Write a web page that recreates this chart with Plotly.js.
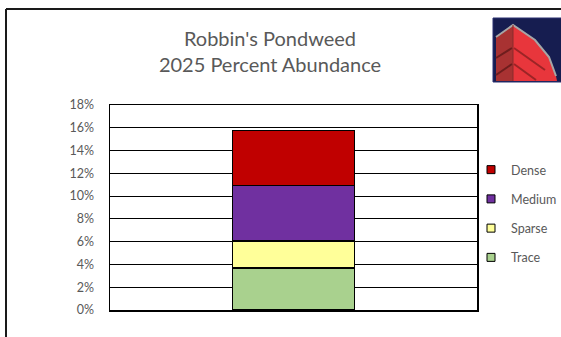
<!DOCTYPE html>
<html>
<head>
<meta charset="utf-8">
<script src="https://cdn.plot.ly/plotly-3.0.1.min.js"></script>
<style>html,body{margin:0;padding:0;background:#fff;}#chart{width:561px;height:337px;}</style>
</head>
<body>
<div id="chart"></div>
<script>
// Data
const categories = ['2025'];
const seriesNames = ['Trace', 'Sparse', 'Medium', 'Dense'];
const traceVals = [0.037];
const sparseVals = [0.0235];
const mediumVals = [0.049];
const denseVals = [0.048];
const seriesColors = ['#a9d18e', '#ffff99', '#7030a0', '#c00000'];
const tickVals = [0, 0.02, 0.04, 0.06, 0.08, 0.10, 0.12, 0.14, 0.16, 0.18];
const tickText = ['0%', '2%', '4%', '6%', '8%', '10%', '12%', '14%', '16%', '18%'];
const titleLines = ["Robbin's Pondweed", '2025 Percent Abundance'];

const W = 561, H = 337;
const L = 110, R = 477, T = 105, B = 310;
const px = x => (x - L) / (R - L);
const py = y => (B - y) / (B - T);
const pt = (x, y) => px(x) + ',' + py(y);

const allVals = [traceVals, sparseVals, mediumVals, denseVals];
const traces = [];
allVals.forEach((vals, i) => {
  traces.push({
    type: 'bar', x: categories, y: vals, name: seriesNames[i],
    marker: {color: seriesColors[i], line: {color: '#000', width: 1.5}},
    width: 0.333, showlegend: false, hoverinfo: 'skip'
  });
});
// legend entries (square markers), top to bottom: Dense, Medium, Sparse, Trace
for (let i = allVals.length - 1; i >= 0; i--) {
  traces.push({
    type: 'scatter', mode: 'markers', x: [null], y: [null], name: seriesNames[i],
    legendgroup: 'g' + i,
    marker: {symbol: 'square', size: 8, color: seriesColors[i], line: {color: '#000', width: 1}},
    showlegend: true
  });
}

const shapes = [
  // outer frame
  {type: 'line', xref: 'paper', yref: 'paper', x0: px(6), y0: py(9), x1: px(570), y1: py(9), line: {color: '#1a1a1a', width: 2}},
  {type: 'line', xref: 'paper', yref: 'paper', x0: px(6), y0: py(9), x1: px(6), y1: py(345), line: {color: '#1a1a1a', width: 2}},
  // logo background
  {type: 'rect', xref: 'paper', yref: 'paper', x0: px(493), y0: py(18), x1: px(565), y1: py(82), fillcolor: '#161d50', line: {color: '#2a3170', width: 1}},
  // left face
  {type: 'path', xref: 'paper', yref: 'paper', path: 'M' + pt(513,25) + 'L' + pt(496,37) + 'L' + pt(496,81) + 'L' + pt(513,81) + 'Z', fillcolor: '#a83232', line: {width: 0}},
  // right face
  {type: 'path', xref: 'paper', yref: 'paper', path: 'M' + pt(513,25) + 'L' + pt(535,40) + 'L' + pt(549,57) + 'L' + pt(556,76) + 'L' + pt(557,81) + 'L' + pt(513,81) + 'Z', fillcolor: '#e8363c', line: {width: 0}},
  // stripes
  {type: 'line', xref: 'paper', yref: 'paper', x0: px(496), y0: py(58), x1: px(512), y1: py(48), line: {color: '#6e1d1d', width: 2}},
  {type: 'line', xref: 'paper', yref: 'paper', x0: px(496), y0: py(75), x1: px(512), y1: py(64), line: {color: '#6e1d1d', width: 2}},
  {type: 'line', xref: 'paper', yref: 'paper', x0: px(514), y0: py(48), x1: px(545), y1: py(70), line: {color: '#9c2426', width: 2}},
  {type: 'line', xref: 'paper', yref: 'paper', x0: px(514), y0: py(64), x1: px(536), y1: py(80), line: {color: '#9c2426', width: 2}},
  // rim
  {type: 'path', xref: 'paper', yref: 'paper', path: 'M' + pt(496,37) + 'L' + pt(513,25) + 'L' + pt(535,40) + 'L' + pt(549,57) + 'L' + pt(556,76), line: {color: '#a6a6a6', width: 2}},
  {type: 'line', xref: 'paper', yref: 'paper', x0: px(513), y0: py(25), x1: px(513), y1: py(81), line: {color: '#8a2a2a', width: 1}}
];

const layout = {
  width: W, height: H,
  margin: {l: L, r: W - R, t: T, b: H - B, pad: 0, autoexpand: false},
  paper_bgcolor: '#ffffff', plot_bgcolor: '#ffffff',
  barmode: 'stack',
  title: {
    text: titleLines.join('<br>'),
    font: {family: 'Lato, sans-serif', size: 20, color: '#595959'},
    x: 270 / W, xref: 'container', xanchor: 'center',
    y: 1 - 46 / H, yanchor: 'top', yref: 'container'
  },
  xaxis: {
    type: 'category',
    range: [-0.5, 0.5], showticklabels: false, ticks: '', showgrid: false, zeroline: false,
    showline: true, linecolor: '#000', linewidth: 1.5, mirror: true, fixedrange: true
  },
  yaxis: {
    range: [0, 0.18], tickvals: tickVals, ticktext: tickText, ticks: '',
    showgrid: true, gridcolor: '#000', gridwidth: 1, zeroline: false,
    showline: true, linecolor: '#000', linewidth: 1.5, mirror: true,
    tickfont: {family: 'Lato, sans-serif', size: 12.5, color: '#595959'},
    ticklabelstandoff: 12, fixedrange: true
  },
  legend: {
    x: px(471), y: py(155), xanchor: 'left', yanchor: 'top',
    traceorder: 'grouped', tracegroupgap: 10,
    font: {family: 'Lato, sans-serif', size: 12.5, color: '#595959'},
    bgcolor: 'rgba(0,0,0,0)', itemwidth: 30
  },
  shapes: shapes,
  showlegend: true
};

Plotly.newPlot('chart', traces, layout, {displayModeBar: false, staticPlot: true});
</script>
</body>
</html>
